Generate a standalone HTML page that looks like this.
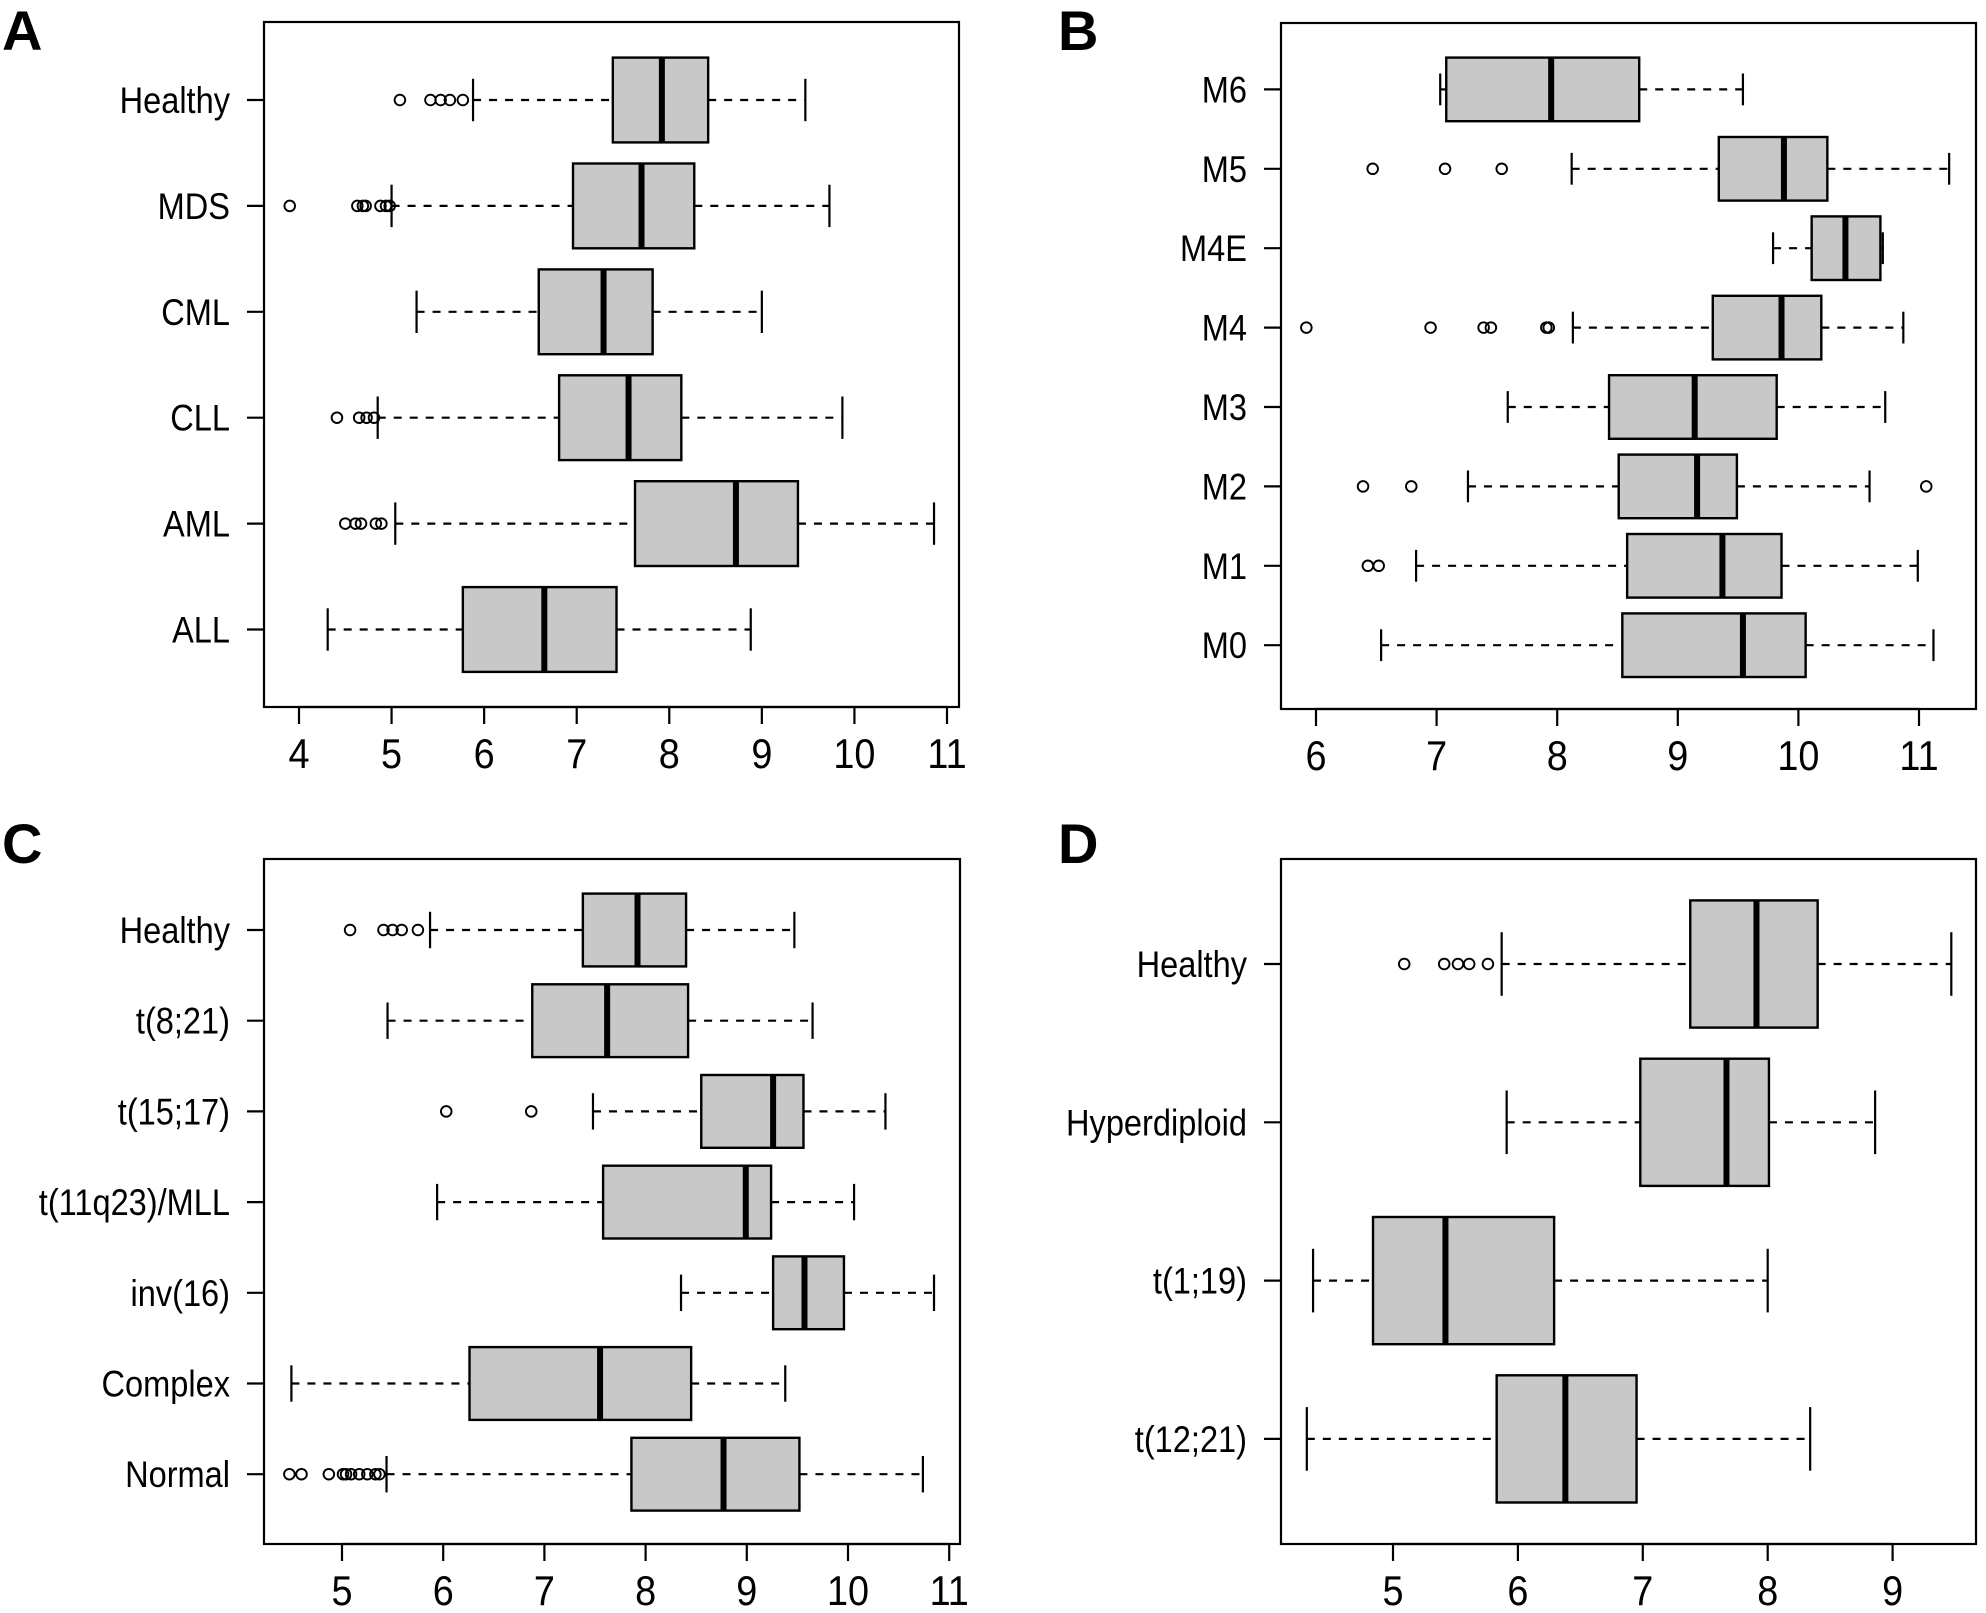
<!DOCTYPE html>
<html><head><meta charset="utf-8"><style>
html,body{margin:0;padding:0;background:#fff;}
svg{display:block;font-family:"Liberation Sans",sans-serif;}
</style></head><body>
<svg id="fig" width="1986" height="1613" viewBox="0 0 1986 1613"></svg>
<script>
// Panel A
const catsA = ["Healthy","MDS","CML","CLL","AML","ALL"];
const statsA = [[5.88,7.39,7.92,8.42,9.47],[5.0,6.96,7.70,8.27,9.73],[5.27,6.59,7.29,7.82,9.0],[4.85,6.81,7.56,8.13,9.87],[5.04,7.63,8.72,9.39,10.86],[4.31,5.77,6.65,7.43,8.88]];
const outA = [[5.09,5.42,5.53,5.63,5.77],[3.90,4.63,4.69,4.72,4.88,4.94,4.98],[],[4.41,4.65,4.73,4.81],[4.50,4.61,4.67,4.83,4.89],[]];
const ticksA = [4,5,6,7,8,9,10,11];
// Panel B
const catsB = ["M6","M5","M4E","M4","M3","M2","M1","M0"];
const statsB = [[7.03,7.08,7.95,8.68,9.54],[8.12,9.34,9.88,10.24,11.25],[9.79,10.11,10.39,10.68,10.70],[8.13,9.29,9.86,10.19,10.87],[7.59,8.43,9.14,9.82,10.72],[7.26,8.51,9.16,9.49,10.59],[6.83,8.58,9.37,9.86,10.99],[6.54,8.54,9.54,10.06,11.12]];
const outB = [[],[6.47,7.07,7.54],[],[5.92,6.95,7.39,7.45,7.91,7.93],[],[6.39,6.79,11.06],[6.43,6.52],[]];
const ticksB = [6,7,8,9,10,11];
// Panel C
const catsC = ["Healthy","t(8;21)","t(15;17)","t(11q23)/MLL","inv(16)","Complex","Normal"];
const statsC = [[5.87,7.38,7.92,8.40,9.47],[5.45,6.88,7.62,8.42,9.65],[7.48,8.55,9.26,9.56,10.37],[5.94,7.58,8.99,9.24,10.06],[8.35,9.26,9.57,9.96,10.85],[4.50,6.26,7.55,8.45,9.38],[5.44,7.86,8.77,9.52,10.74]];
const outC = [[5.08,5.41,5.50,5.59,5.75],[],[6.03,6.87],[],[],[],[4.48,4.60,4.87,5.01,5.04,5.09,5.17,5.25,5.33,5.37]];
const ticksC = [5,6,7,8,9,10,11];
// Panel D
const catsD = ["Healthy","Hyperdiploid","t(1;19)","t(12;21)"];
const statsD = [[5.87,7.38,7.91,8.40,9.47],[5.91,6.98,7.67,8.01,8.86],[4.36,4.84,5.42,6.29,8.0],[4.31,5.83,6.38,6.95,8.34]];
const outD = [[5.09,5.41,5.52,5.61,5.76],[],[],[]];
const ticksD = [5,6,7,8,9];

const NS="http://www.w3.org/2000/svg";
const svg=document.getElementById('fig');
function mk(tag,attrs,parent){const e=document.createElementNS(NS,tag);for(const k in attrs)e.setAttribute(k,attrs[k]);(parent||svg).appendChild(e);return e;}

function panel(cfg){
  const g=mk('g',{});
  
  
  const L=mk('text',{x:cfg.lx,y:cfg.ly,'font-size':56,'font-weight':'bold',fill:'#000'},g);
  L.textContent=cfg.letter;
  
  
  const fr=mk('rect',{x:cfg.left,y:cfg.top,width:cfg.right-cfg.left,height:cfg.bottom-cfg.top,fill:'none',stroke:'#000','stroke-width':2.2},g);
  
  
  const X=v=>cfg.x0+(v-cfg.v0)*cfg.ppu;
  const Y=i=>cfg.y0+i*cfg.dy;
  const ax=mk('g',{},g);
  
  
  const t0=cfg.ticks[0],t1=cfg.ticks[cfg.ticks.length-1];
  mk('line',{x1:X(t0),x2:X(t1),y1:cfg.bottom,y2:cfg.bottom,stroke:'#000','stroke-width':2.2},ax);
  cfg.ticks.forEach(t=>{
    mk('line',{x1:X(t),x2:X(t),y1:cfg.bottom,y2:cfg.bottom+17,stroke:'#000','stroke-width':2.2},ax);
    const tx=mk('text',{transform:'translate('+X(t)+','+(cfg.bottom+61)+') scale(0.9,1)','font-size':42,'text-anchor':'middle',fill:'#000'},ax);
    tx.textContent=t;
    
    
  });
  const ay=mk('g',{},g);
  
  
  cfg.cats.forEach((c,i)=>{
    const y=Y(i);
    mk('line',{x1:cfg.left-17,x2:cfg.left,y1:y,y2:y,stroke:'#000','stroke-width':2.2},ay);
    const tx=mk('text',{transform:'translate('+(cfg.left-34)+','+(y+13)+') scale(0.88,1)','font-size':37,'text-anchor':'end',fill:'#000'},ay);
    tx.textContent=c;
    
    
    const s=cfg.stats[i];const h=cfg.hh;
    const bg=mk('g',{},g);
    
    
    mk('line',{x1:X(s[0]),x2:X(s[1]),y1:y,y2:y,stroke:'#000','stroke-width':2.2,'stroke-dasharray':'8 8'},bg);
    mk('line',{x1:X(s[3]),x2:X(s[4]),y1:y,y2:y,stroke:'#000','stroke-width':2.2,'stroke-dasharray':'8 8'},bg);
    mk('line',{x1:X(s[0]),x2:X(s[0]),y1:y-h/2,y2:y+h/2,stroke:'#000','stroke-width':2.2},bg);
    mk('line',{x1:X(s[4]),x2:X(s[4]),y1:y-h/2,y2:y+h/2,stroke:'#000','stroke-width':2.2},bg);
    mk('rect',{x:X(s[1]),y:y-h,width:X(s[3])-X(s[1]),height:2*h,fill:'#c8c8c8',stroke:'#000','stroke-width':2.4},bg);
    mk('line',{x1:X(s[2]),x2:X(s[2]),y1:y-h,y2:y+h,stroke:'#000','stroke-width':6},bg);
    cfg.outs[i].forEach(o=>{
      const c2=mk('circle',{cx:X(o),cy:y,r:5.3,fill:'none',stroke:'#000','stroke-width':1.9},bg);
      
      
    });
  });
}
panel({letter:'A',lx:2,ly:50,left:264,right:959,top:22,bottom:707,x0:299,v0:4,ppu:92.57,y0:100,dy:105.9,hh:42.4,cats:catsA,stats:statsA,outs:outA,ticks:ticksA});
panel({letter:'B',lx:1058,ly:50,left:1281,right:1976,top:23,bottom:709,x0:1316,v0:6,ppu:120.6,y0:89.4,dy:79.4,hh:31.8,cats:catsB,stats:statsB,outs:outB,ticks:ticksB});
panel({letter:'C',lx:2,ly:863,left:264,right:960,top:859,bottom:1544,x0:342,v0:5,ppu:101.2,y0:930,dy:90.7,hh:36.4,cats:catsC,stats:statsC,outs:outC,ticks:ticksC});
panel({letter:'D',lx:1058,ly:863,left:1281,right:1976,top:859,bottom:1544,x0:1393,v0:5,ppu:124.9,y0:964,dy:158.3,hh:63.6,cats:catsD,stats:statsD,outs:outD,ticks:ticksD});
</script>
</body></html>
